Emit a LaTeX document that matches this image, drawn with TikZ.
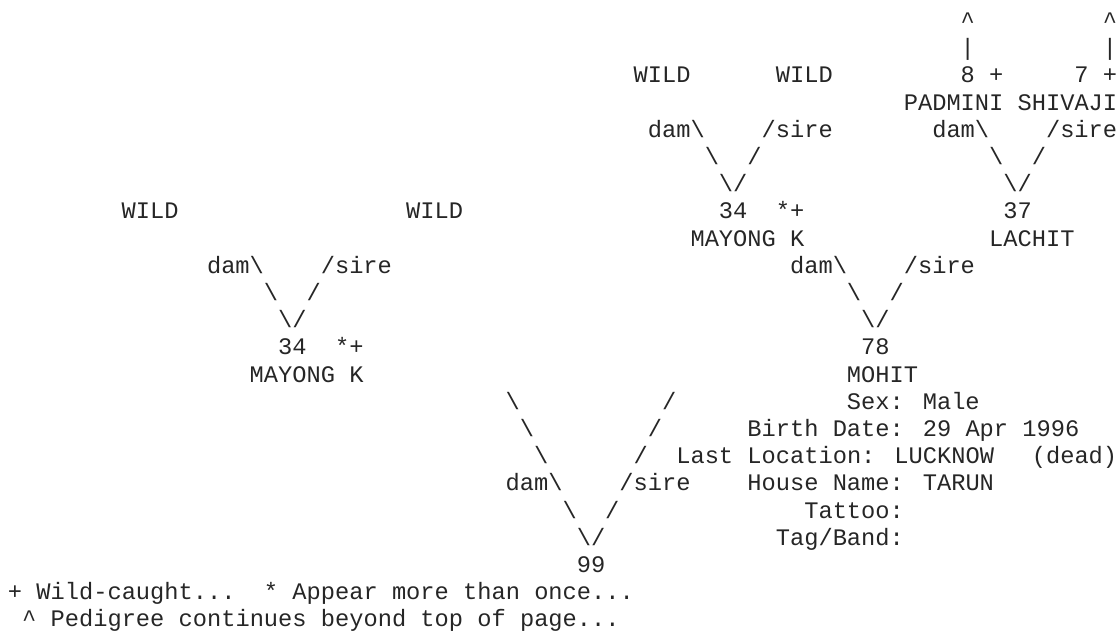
\documentclass[tikz,border=0pt]{standalone}
\usepackage{fontspec}
\newfontfamily\pedfont{Liberation Mono}
\usetikzlibrary{positioning}
\tikzset{
  ped/text/.style={anchor=base west, inner sep=0pt, outer sep=0pt, text=black!85,
    font=\pedfont\fontsize{17.78pt}{20.4pt}\selectfont},
  ped/flag/.style={ped/text},
  ped/link/.style={ped/text},
  ped/info/.style={ped/text}
}

\begin{document}
\begin{tikzpicture}[x=10.665pt, y=-20.4pt]
  \useasboundingbox (-0.56,-0.05) rectangle (77.99,23.515);

  % lines going on above the page
  \node[ped/link] (upA) at (67,1) {\textasciicircum};
  \node[ped/link] (upB) at (77,1) {\textasciicircum};
  \node[ped/link] (barA) at (67,2) {|};
  \node[ped/link] (barB) at (77,2) {|};

  % great-grandparents
  \node[ped/text] (wildA) at (44,3) {WILD};
  \node[ped/text] (wildB) at (54,3) {WILD};
  \node[ped/text] (padId) at (67,3) {8};
  \node[ped/flag] (padFlag) at (69,3) {+};
  \node[ped/text] (shiId) at (75,3) {7};
  \node[ped/flag] (shiFlag) at (77,3) {+};
  \node[ped/text] (pad) at (63,4) {PADMINI};
  \node[ped/text] (shi) at (71,4) {SHIVAJI};

  \node[ped/link] (damA) at (45,5) {dam\textbackslash};
  \node[ped/link] (sireA) at (53,5) {/sire};
  \node[ped/link] (damB) at (65,5) {dam\textbackslash};
  \node[ped/link] (sireB) at (73,5) {/sire};
  \node[ped/link] (dA) at (49,6) {\textbackslash};
  \node[ped/link] (sA) at (52,6) {/};
  \node[ped/link] (dB) at (69,6) {\textbackslash};
  \node[ped/link] (sB) at (72,6) {/};
  \node[ped/link] (vA) at (50,7) {\textbackslash/};
  \node[ped/link] (vB) at (70,7) {\textbackslash/};

  % grandparents
  \node[ped/text] (wildC) at (8,8) {WILD};
  \node[ped/text] (wildD) at (28,8) {WILD};
  \node[ped/text] (mayBId) at (50,8) {34};
  \node[ped/flag] (mayBFlag) at (54,8) {*+};
  \node[ped/text] (lacId) at (70,8) {37};
  \node[ped/text] (mayB) at (48,9) {MAYONG K};
  \node[ped/text] (lac) at (69,9) {LACHIT};

  \node[ped/link] (damC) at (14,10) {dam\textbackslash};
  \node[ped/link] (sireC) at (22,10) {/sire};
  \node[ped/link] (damD) at (55,10) {dam\textbackslash};
  \node[ped/link] (sireD) at (63,10) {/sire};
  \node[ped/link] (dC) at (18,11) {\textbackslash};
  \node[ped/link] (sC) at (21,11) {/};
  \node[ped/link] (dD) at (59,11) {\textbackslash};
  \node[ped/link] (sD) at (62,11) {/};
  \node[ped/link] (vC) at (19,12) {\textbackslash/};
  \node[ped/link] (vD) at (60,12) {\textbackslash/};

  % parents
  \node[ped/text] (mayAId) at (19,13) {34};
  \node[ped/flag] (mayAFlag) at (23,13) {*+};
  \node[ped/text] (mohId) at (60,13) {78};
  \node[ped/text] (mayA) at (17,14) {MAYONG K};
  \node[ped/text] (moh) at (59,14) {MOHIT};

  % long legs down to the animal
  \foreach \i in {0,1,2} {
    \node[ped/link] (dE\i) at (35+\i,15+\i) {\textbackslash};
    \node[ped/link] (sE\i) at (46-\i,15+\i) {/};
  }
  \node[ped/link] (damE) at (35,18) {dam\textbackslash};
  \node[ped/link] (sireE) at (43,18) {/sire};
  \node[ped/link] (dE) at (39,19) {\textbackslash};
  \node[ped/link] (sE) at (42,19) {/};
  \node[ped/link] (vE) at (40,20) {\textbackslash/};
  \node[ped/text] (self) at (40,21) {99};

  % details of the sire
  \node[ped/info] (sex) at (59,15) {Sex: Male};
  \node[ped/info] (birth) at (52,16) {Birth Date: 29 Apr 1996};
  \node[ped/info] (loc) at (47,17) {Last Location: LUCKNOW};
  \node[ped/info] (dead) at (72,17) {(dead)};
  \node[ped/info] (house) at (52,18) {House Name: TARUN};
  \node[ped/info] (tattoo) at (56,19) {Tattoo:};
  \node[ped/info] (band) at (54,20) {Tag/Band:};

  % legend
  \node[ped/text] (keyA) at (0,22) {+ Wild-caught...~~* Appear more than once...};
  \node[ped/text] (keyB) at (1,23) {\textasciicircum{} Pedigree continues beyond top of page...};
\end{tikzpicture}
\end{document}
